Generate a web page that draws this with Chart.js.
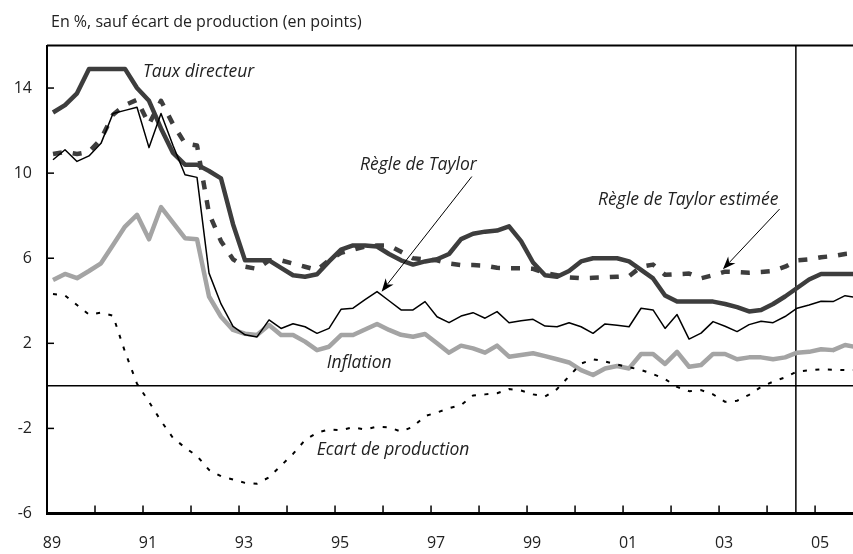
<!DOCTYPE html>
<html lang="fr">
<head>
<meta charset="utf-8">
<title>Taux directeur et règle de Taylor</title>
<script src="https://cdn.jsdelivr.net/npm/chart.js@4.4.1/dist/chart.umd.min.js"></script>
<style>
  html, body { margin: 0; padding: 0; background: #fff; }
  #wrap { width: 853px; height: 554px; }
</style>
</head>
<body>
<div id="wrap"><canvas id="chart" width="853" height="554"></canvas></div>
<script>
// Données trimestrielles 1989T1 – 2005T4.
const START_YEAR = 1989;

const tauxDirecteur = [
  12.85, 13.2, 13.75, 14.9, 14.9, 14.9, 14.9, 14.0, 13.4, 12.1,
  10.95, 10.4, 10.4, 10.1, 9.75, 7.6, 5.9, 5.9, 5.9, 5.55,
  5.2, 5.13, 5.25, 5.85, 6.4, 6.6, 6.6, 6.55, 6.2, 5.9,
  5.7, 5.85, 5.95, 6.2, 6.9, 7.15, 7.25, 7.3, 7.5, 6.8,
  5.8, 5.2, 5.13, 5.4, 5.85, 6.0, 6.0, 6.0, 5.85, 5.45,
  5.05, 4.25, 3.96, 3.96, 3.96, 3.96, 3.85, 3.7, 3.5, 3.57,
  3.85, 4.2, 4.6, 5.0, 5.26, 5.26, 5.26, 5.26
];

const regleTaylor = [
  10.63, 11.1, 10.55, 10.81, 11.4, 12.8, 12.95, 13.1, 11.2, 12.8,
  11.3, 9.92, 9.8, 5.3, 3.85, 2.8, 2.4, 2.3, 3.1, 2.7,
  2.92, 2.78, 2.47, 2.7, 3.6, 3.65, 4.05, 4.43, 4.0, 3.57,
  3.57, 3.96, 3.25, 2.97, 3.28, 3.44, 3.18, 3.49, 2.97, 3.06,
  3.13, 2.81, 2.78, 2.97, 2.78, 2.47, 2.91, 2.85, 2.78, 3.65,
  3.57, 2.7, 3.35, 2.2, 2.48, 3.02, 2.8, 2.55, 2.88, 3.04,
  2.97, 3.26, 3.65, 3.8, 3.98, 3.96, 4.24, 4.15
];

const regleEstimee = [
  10.9, 11.0, 10.9, 11.0, 11.6, 12.75, 13.2, 13.45, 12.3, 13.4,
  12.3, 11.4, 11.3, 8.1, 6.8, 5.95, 5.6, 5.5, 5.9, 5.9,
  5.75, 5.6, 5.45, 5.9, 6.25, 6.4, 6.55, 6.6, 6.6, 6.3,
  6.0, 5.95, 5.9, 5.75, 5.68, 5.68, 5.65, 5.55, 5.53, 5.53,
  5.5, 5.3, 5.2, 5.1, 5.06, 5.08, 5.1, 5.13, 5.16, 5.6,
  5.7, 5.22, 5.25, 5.28, 5.06, 5.2, 5.37, 5.35, 5.32, 5.35,
  5.4, 5.6, 5.9, 5.95, 6.05, 6.1, 6.2, 6.25
];

const inflation = [
  4.98, 5.26, 5.06, 5.4, 5.76, 6.62, 7.49, 8.04, 6.89, 8.4,
  7.67, 6.94, 6.89, 4.2, 3.25, 2.63, 2.45, 2.39, 2.86, 2.39,
  2.39, 2.08, 1.68, 1.84, 2.39, 2.39, 2.65, 2.91, 2.63, 2.4,
  2.31, 2.44, 2.0, 1.56, 1.89, 1.76, 1.56, 1.89, 1.37, 1.45,
  1.53, 1.4, 1.25, 1.1, 0.74, 0.51, 0.82, 0.93, 0.82, 1.5,
  1.5, 1.03, 1.6, 0.9, 0.98, 1.5, 1.5, 1.25, 1.34, 1.34,
  1.25, 1.34, 1.56, 1.6, 1.72, 1.68, 1.92, 1.82
];

const ecartProduction = [
  4.32, 4.25, 3.8, 3.35, 3.44, 3.3, 1.6, 0.1, -0.75, -1.65,
  -2.45, -2.9, -3.3, -3.95, -4.25, -4.4, -4.56, -4.6, -4.3, -3.75,
  -3.2, -2.55, -2.2, -2.05, -2.08, -1.95, -2.05, -1.92, -1.95, -2.15,
  -1.92, -1.42, -1.25, -1.05, -0.9, -0.45, -0.4, -0.35, -0.15, -0.22,
  -0.4, -0.5, -0.15, 0.45, 1.05, 1.25, 1.15, 1.0, 0.88, 0.75,
  0.55, 0.32, -0.05, -0.25, -0.2, -0.4, -0.75, -0.7, -0.42, -0.05,
  0.2, 0.4, 0.68, 0.73, 0.78, 0.76, 0.74, 0.74
];

const X_TICKS = [1989, 1990, 1991, 1992, 1993, 1994, 1995, 1996, 1997,
  1998, 1999, 2000, 2001, 2002, 2003, 2004, 2005];
const Y_TICKS = [-6, -2, 2, 6, 10, 14];
const SPLIT_YEAR = 2004.6; // trait vertical : fin de l'échantillon

const FONT = "'Open Sans', Lato, sans-serif";
const DARK = "#3d3d3d";
const GREY = "#a4a4a4";

// chaque trimestre est placé au milieu de sa période
const toPoints = (vals) => vals.map((v, i) => ({ x: START_YEAR + (i + 0.5) / 4, y: v }));

// textes et flèches, ancrés en coordonnées de données
const labels = [
  { text: "Taux directeur", x: 1991.0, y: 14.76 },
  { text: "Règle de Taylor", x: 1995.52, y: 10.39 },
  { text: "Règle de Taylor estimée", x: 2000.48, y: 8.74 },
  { text: "Inflation", x: 1994.83, y: 1.06 },
  { text: "Ecart de production", x: 1994.62, y: -3.02 },
];
const arrows = [
  { from: [1997.85, 9.84], to: [1995.97, 4.43] },
  { from: [2004.26, 8.31], to: [2003.08, 5.48] },
];

function drawArrow(ctx, x1, y1, x2, y2) {
  const ang = Math.atan2(y2 - y1, x2 - x1);
  const len = 13, half = 5;
  const cx = Math.cos(ang), sy = Math.sin(ang);
  ctx.beginPath();
  ctx.moveTo(x1, y1);
  ctx.lineTo(x2 - cx * len * 0.7, y2 - sy * len * 0.7);
  ctx.stroke();
  ctx.beginPath();
  ctx.moveTo(x2, y2);
  ctx.lineTo(x2 - cx * len - sy * half, y2 - sy * len + cx * half);
  ctx.lineTo(x2 - cx * len * 0.7, y2 - sy * len * 0.7);
  ctx.lineTo(x2 - cx * len + sy * half, y2 - sy * len - cx * half);
  ctx.closePath();
  ctx.fill();
}

const overlay = {
  id: "overlay",
  beforeDatasetsDraw(chart) {
    const { ctx, chartArea: a, scales: { x, y } } = chart;
    ctx.save();
    ctx.strokeStyle = "#000";
    ctx.lineWidth = 1.5;
    // ligne du zéro
    const y0 = y.getPixelForValue(0);
    ctx.beginPath(); ctx.moveTo(a.left, y0); ctx.lineTo(a.right, y0); ctx.stroke();
    // séparation verticale
    const xs = x.getPixelForValue(SPLIT_YEAR);
    ctx.beginPath(); ctx.moveTo(xs, a.top); ctx.lineTo(xs, a.bottom); ctx.stroke();
    ctx.restore();
  },
  afterDatasetsDraw(chart) {
    const { ctx, chartArea: a, scales: { x, y } } = chart;
    ctx.save();
    ctx.strokeStyle = "#000";
    ctx.fillStyle = "#000";
    // cadre : haut
    ctx.lineWidth = 2;
    ctx.beginPath(); ctx.moveTo(a.left, a.top); ctx.lineTo(a.right, a.top); ctx.stroke();
    // petites graduations vers l'intérieur
    ctx.lineWidth = 1.5;
    for (const t of X_TICKS.slice(1)) {
      const px = x.getPixelForValue(t);
      ctx.beginPath(); ctx.moveTo(px, a.bottom); ctx.lineTo(px, a.bottom - 8); ctx.stroke();
    }
    for (const t of Y_TICKS) {
      const py = y.getPixelForValue(t);
      ctx.beginPath(); ctx.moveTo(a.left, py); ctx.lineTo(a.left + 7, py); ctx.stroke();
    }
    // titre de l'unité
    ctx.fillStyle = "#222";
    ctx.font = "16px " + FONT;
    ctx.textBaseline = "middle";
    ctx.textAlign = "left";
    ctx.fillText("En %, sauf écart de production (en points)", a.left + 4, 22);
    // annotations
    ctx.font = "italic 17.5px " + FONT;
    for (const l of labels) {
      ctx.fillText(l.text, x.getPixelForValue(l.x), y.getPixelForValue(l.y));
    }
    ctx.lineWidth = 1;
    ctx.fillStyle = "#000";
    for (const ar of arrows) {
      drawArrow(ctx,
        x.getPixelForValue(ar.from[0]), y.getPixelForValue(ar.from[1]),
        x.getPixelForValue(ar.to[0]), y.getPixelForValue(ar.to[1]));
    }
    ctx.restore();
  },
};

new Chart(document.getElementById("chart"), {
  type: "line",
  data: {
    datasets: [
      { label: "Règle de Taylor", data: toPoints(regleTaylor), borderColor: "#000", borderWidth: 1.5, order: 1 },
      { label: "Taux directeur", data: toPoints(tauxDirecteur), borderColor: DARK, borderWidth: 4.5, order: 2 },
      { label: "Règle de Taylor estimée", data: toPoints(regleEstimee), borderColor: DARK, borderWidth: 4.5, borderDash: [9, 11], order: 3 },
      { label: "Ecart de production", data: toPoints(ecartProduction), borderColor: "#000", borderWidth: 2, borderDash: [4, 8.5], order: 4 },
      { label: "Inflation", data: toPoints(inflation), borderColor: GREY, borderWidth: 4.5, order: 5 },
    ],
  },
  options: {
    responsive: false,
    animation: false,
    devicePixelRatio: 1,
    layout: { padding: { top: 45.5, right: 0, left: 0, bottom: 0 } },
    elements: { point: { radius: 0 }, line: { tension: 0, fill: false, borderJoinStyle: "round" } },
    plugins: { legend: { display: false }, tooltip: { enabled: false } },
    scales: {
      x: {
        type: "linear",
        min: 1989,
        max: 2005.79,
        afterBuildTicks: (s) => { s.ticks = X_TICKS.map((v) => ({ value: v })); },
        afterFit: (s) => { s.height = 40.5; },
        grid: { display: false, drawTicks: false },
        border: { display: true, color: "#000", width: 3 },
        ticks: {
          autoSkip: false,
          maxRotation: 0,
          padding: 20.5,
          labelOffset: 5,
          color: "#222",
          font: { family: FONT, size: 16 },
          callback: (v) => (v % 2 ? String(v).slice(2) : ""),
        },
      },
      y: {
        min: -6,
        max: 16,
        afterBuildTicks: (s) => { s.ticks = Y_TICKS.map((v) => ({ value: v })); },
        afterFit: (s) => { s.width = 47; },
        grid: { display: false, drawTicks: false },
        border: { display: true, color: "#000", width: 2 },
        ticks: {
          padding: 15,
          color: "#222",
          font: { family: FONT, size: 16 },
        },
      },
    },
  },
  plugins: [overlay],
});
</script>
</body>
</html>
